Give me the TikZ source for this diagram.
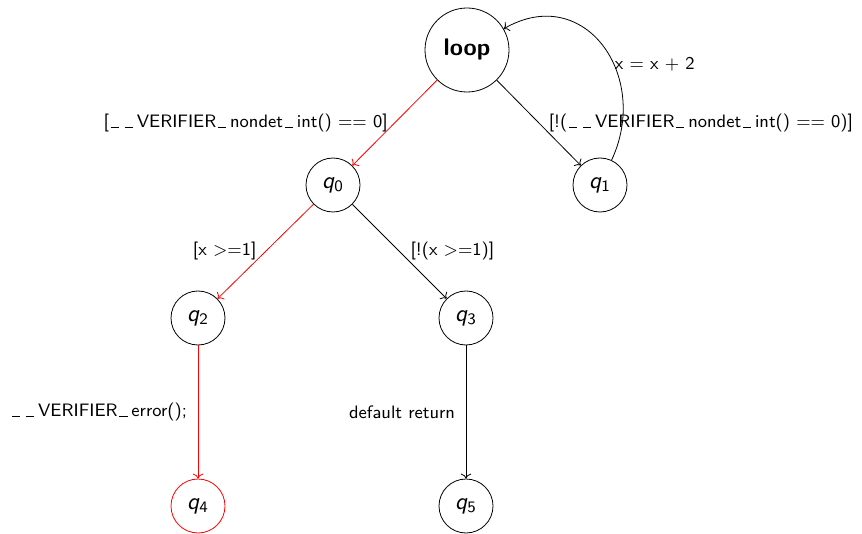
\documentclass[tikz,border=0pt]{standalone}
\usepackage{tikz}
\usetikzlibrary{arrows.meta,positioning}
\newcommand{\us}{\leavevmode\kern.1em\lower.05ex\vbox{\hrule width.45em}\kern.22em}

\begin{document}
\begin{tikzpicture}[
  x=0.5pt,y=0.5pt,
  on grid,
  every node/.style={font=\sffamily},
  state/.style={draw,circle,minimum size=27pt,inner sep=0pt,font=\sffamily\large},
  root/.style={draw,circle,minimum size=42pt,inner sep=0pt,font=\sffamily\bfseries\large},
  lbl/.style={font=\sffamily\small,text=black},
  arr/.style={-{To}},
  err/.style={color=red}
]
\useasboundingbox (0,0) rectangle (862,-534);
\node[root] (loop) at (467,-50) {loop};
\node[state,below left=67.5pt and 67pt of loop] (q0) {\textit{q}\textsubscript{0}};
\node[state,below right=67.5pt and 66.5pt of loop] (q1) {\textit{q}\textsubscript{1}};
\node[state,below left=66.5pt and 67.5pt of q0] (q2) {\textit{q}\textsubscript{2}};
\node[state,below right=66.5pt and 66.5pt of q0] (q3) {\textit{q}\textsubscript{3}};
\node[state,err,text=black,below=94pt of q2] (q4) {\textit{q}\textsubscript{4}};
\node[state,below=94pt of q3] (q5) {\textit{q}\textsubscript{5}};
\draw[arr,err] (loop) -- node[lbl,left] {[\us\us VERIFIER\us nondet\us int() == 0]} (q0);
\draw[arr] (loop) -- node[lbl,right,xshift=1.5pt] {[!(\us\us VERIFIER\us nondet\us int() == 0)]} (q1);
\draw[arr] (q1) to[out=65,in=30,looseness=1.4] node[lbl,pos=0.4,right,xshift=-3pt] {x = x + 2} (loop);
\draw[arr,err] (q0) -- node[lbl,left,xshift=-1pt] {[x >=1]} (q2);
\draw[arr] (q0) -- node[lbl,right,xshift=2pt] {[!(x >=1)]} (q3);
\draw[arr,err] (q2) -- node[lbl,left,xshift=-2pt] {\us\us VERIFIER\us error();} (q4);
\draw[arr] (q3) -- node[lbl,left,xshift=-2pt] {default return} (q5);
\end{tikzpicture}
\end{document}
